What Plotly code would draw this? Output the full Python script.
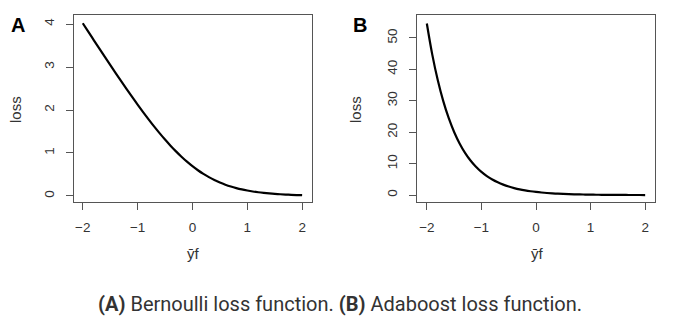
import plotly.graph_objects as go

# Values
yf = [-2.0, -1.9, -1.8, -1.7, -1.6, -1.5, -1.4, -1.3, -1.2, -1.1, -1.0,
      -0.9, -0.8, -0.7, -0.6, -0.5, -0.4, -0.3, -0.2, -0.1, 0.0,
      0.1, 0.2, 0.3, 0.4, 0.5, 0.6, 0.7, 0.8, 0.9, 1.0,
      1.1, 1.2, 1.3, 1.4, 1.5, 1.6, 1.7, 1.8, 1.9, 2.0]
bernoulli_loss = [4.018, 3.822, 3.627, 3.433, 3.240, 3.049, 2.859, 2.672, 2.487, 2.305, 2.127,
                  1.953, 1.784, 1.620, 1.463, 1.313, 1.171, 1.038, 0.913, 0.798, 0.693,
                  0.598, 0.513, 0.438, 0.371, 0.313, 0.263, 0.220, 0.184, 0.153, 0.127,
                  0.105, 0.087, 0.072, 0.059, 0.049, 0.040, 0.033, 0.027, 0.022, 0.018]
adaboost_loss = [54.60, 44.70, 36.60, 29.96, 24.53, 20.09, 16.44, 13.46, 11.02, 9.03, 7.39,
                 6.05, 4.95, 4.06, 3.32, 2.72, 2.23, 1.82, 1.49, 1.22, 1.00,
                 0.82, 0.67, 0.55, 0.45, 0.37, 0.30, 0.25, 0.20, 0.17, 0.14,
                 0.11, 0.09, 0.074, 0.061, 0.050, 0.041, 0.033, 0.027, 0.022, 0.018]
x_ticks = [-2, -1, 0, 1, 2]
x_tick_labels = ["\u22122", "\u22121", "0", "1", "2"]
a_y_ticks = [0, 1, 2, 3, 4]
b_y_ticks = [0, 10, 20, 30, 40, 50]
caption = "<b>(A)</b> Bernoulli loss function. <b>(B)</b> Adaboost loss function."

W, H = 674, 331
AX = "#555555"
TXT = "#333333"
FONT = "Liberation Sans"

fig = go.Figure()
fig.add_trace(go.Scatter(x=yf, y=bernoulli_loss, mode="lines", line=dict(color="black", width=2.2, shape="spline"),
                         xaxis="x", yaxis="y", showlegend=False))
fig.add_trace(go.Scatter(x=yf, y=adaboost_loss, mode="lines", line=dict(color="black", width=2.2, shape="spline"),
                         xaxis="x2", yaxis="y2", showlegend=False))

def px(x):
    return x / W

def py(y):
    return 1 - y / H

common = dict(showline=True, mirror=True, linecolor=AX, linewidth=1, ticks="outside", ticklen=7,
              tickcolor=AX, tickwidth=1, showgrid=False, zeroline=False,
              tickfont=dict(family=FONT, size=13.5, color=TXT))

ydom = [py(202), py(15)]
fig.update_layout(
    width=W, height=H, margin=dict(l=0, r=0, t=0, b=0),
    paper_bgcolor="white", plot_bgcolor="white",
    xaxis=dict(domain=[px(74), px(312)], range=[-2.16, 2.18], tickvals=x_ticks, ticktext=x_tick_labels,
               anchor="y", ticklabelstandoff=6, **common),
    yaxis=dict(domain=ydom, range=[-0.14, 4.21], tickvals=a_y_ticks, tickangle=-90,
               anchor="x", ticklabelstandoff=7, **common),
    xaxis2=dict(domain=[px(417), px(655)], range=[-2.18, 2.18], tickvals=x_ticks, ticktext=x_tick_labels,
                anchor="y2", ticklabelstandoff=6, **common),
    yaxis2=dict(domain=ydom, range=[-2.2, 57.3], tickvals=b_y_ticks, tickangle=-90,
                anchor="x2", ticklabelstandoff=7, **common),
)

def ann(text, x, y, size, angle=0, color=TXT, family=FONT):
    fig.add_annotation(text=text, x=px(x), y=py(y), xref="paper", yref="paper", showarrow=False,
                       xanchor="center", yanchor="middle", textangle=angle,
                       font=dict(family=family, size=size, color=color))

ann("loss", 15, 110, 15, angle=-90)
ann("loss", 355, 110, 15, angle=-90)
ann("\u0233f", 193, 253, 15)
ann("\u0233f", 537, 253, 15)
ann("<b>A</b>", 18, 25, 20, color="black")
ann("<b>B</b>", 360, 25, 20, color="black")
ann(caption, 340, 304, 20, family="Roboto")

fig.write_html("out.html")
